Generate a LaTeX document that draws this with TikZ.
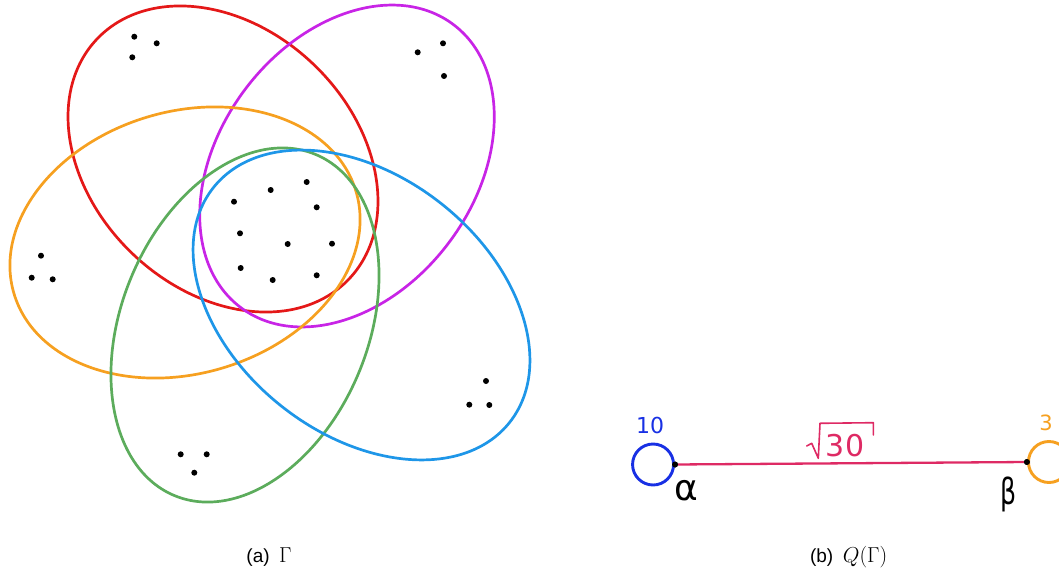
\documentclass[tikz,border=0pt]{standalone}
\usepackage{fontspec}
\setmainfont{Liberation Sans}
\newfontfamily\handfont{DejaVu Sans}
\definecolor{cred}{RGB}{228,24,24}
\definecolor{cmag}{RGB}{200,36,230}
\definecolor{corange}{RGB}{246,160,32}
\definecolor{cgreen}{RGB}{92,172,92}
\definecolor{cblue}{RGB}{30,150,232}
\definecolor{qblue}{RGB}{24,48,228}
\definecolor{qpink}{RGB}{222,42,100}
\begin{document}
\begin{tikzpicture}[x=1pt,y=-1pt,
  setline/.style={line width=2.7pt},
  dot/.style={circle,fill=black,inner sep=0pt,minimum size=6pt},
  hand/.style={font=\handfont\fontsize{#1}{#1}\selectfont},
  captext/.style={font=\fontsize{19}{22}\selectfont}]
\useasboundingbox (0,0) rectangle (1059,575);
% ---- (a) hypergraph ----
\begin{scope}[shift={(223,159)},rotate=-43.7]
  \draw[setline,cred] (0,0) ellipse (174pt and 131pt);
\end{scope}
\begin{scope}[shift={(347,166)},rotate=53.1]
  \draw[setline,cmag] (0,0) ellipse (177pt and 127.5pt);
\end{scope}
\begin{scope}[shift={(185,242.5)},rotate=16.7]
  \draw[setline,corange] (0,0) ellipse (178.5pt and 131pt);
\end{scope}
\begin{scope}[shift={(245,325)},rotate=67.6]
  \draw[setline,cgreen] (0,0) ellipse (184.6pt and 123.4pt);
\end{scope}
\begin{scope}[shift={(361.5,305)},rotate=-38.4]
  \draw[setline,cblue] (0,0) ellipse (189pt and 129pt);
\end{scope}
% dots
\node[dot] (r1) at (134.3,36.7) {};
\node[dot] (r2) at (156.7,43.3) {};
\node[dot] (r3) at (132.3,57.3) {};
\node[dot] (m1) at (417.7,52.3) {};
\node[dot] (m2) at (443,43.3) {};
\node[dot] (m3) at (444,76) {};
\node[dot] (o1) at (41,255.7) {};
\node[dot] (o2) at (31.7,277.7) {};
\node[dot] (o3) at (52.7,279.3) {};
\node[dot] (g1) at (180.7,454.3) {};
\node[dot] (g2) at (206.7,454.3) {};
\node[dot] (g3) at (194.3,472.7) {};
\node[dot] (b1) at (486,381) {};
\node[dot] (b2) at (469.3,404.7) {};
\node[dot] (b3) at (489.3,405) {};
\node[dot] (c1) at (234,201.7) {};
\node[dot] (c2) at (270.7,190) {};
\node[dot] (c3) at (306.7,182) {};
\node[dot] (c4) at (316.7,207.3) {};
\node[dot] (c5) at (240,233.3) {};
\node[dot] (c6) at (287.7,244) {};
\node[dot] (c7) at (332,243.7) {};
\node[dot] (c8) at (240.7,268) {};
\node[dot] (c9) at (272.7,280) {};
\node[dot] (c10) at (316.7,275.3) {};
\node[captext] (capa) at (269,557.5) {(a)\hspace{0.5em}\scalebox{1.25}{$\Gamma$}};
% ---- (b) quotient graph ----
\node[dot] (va) at (675,464.5) {};
\node[dot] (vb) at (1027,462) {};
\draw[qpink,line width=2.3pt] (va) -- (vb);
\node[circle,draw=qblue,line width=2.9pt,minimum size=41pt,inner sep=0pt,anchor=east] (la) at (va.center) {};
\node[circle,draw=corange,line width=2.9pt,minimum size=41pt,inner sep=0pt,anchor=west] (lb) at (vb.center) {};
\node[dot] (vaa) at (va.center) {};
\node[dot] (vbb) at (vb.center) {};
\node[hand=22,text=qblue] (wa) at (650,425) {10};
\node[hand=21,text=corange] (wb) at (1046,423) {3};
\node[hand=30,text=qpink] (w) at (845,446) {30};
\draw[qpink,line width=1.6pt,line join=round,line cap=round]
  (806.7,446) -- (811.7,443.3) -- (818.3,458.3) -- (820,423.3) -- (873.3,422.7) -- (873.3,435);
\node[hand=36] (na) at (686,491) {α};
\node[hand=36] (nb) at (1009,494) {\scalebox{0.7}[1]{β}};
\node[captext] (capb) at (848.7,557.5) {(b)\hspace{0.5em}\scalebox{1.25}{$Q(\Gamma)$}};
\end{tikzpicture}
\end{document}
